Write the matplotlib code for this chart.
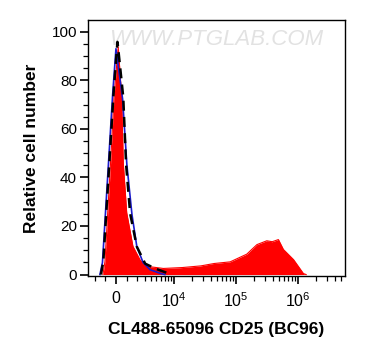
import numpy as np
import matplotlib
matplotlib.use("Agg")
import matplotlib.pyplot as plt
from matplotlib.ticker import FixedLocator, MultipleLocator

plt.rcParams['font.family'] = ['Liberation Sans', 'DejaVu Sans']
plt.rcParams['mathtext.fontset'] = 'custom'
plt.rcParams['mathtext.rm'] = 'Liberation Sans'

# sample (red, filled)
red_x = [-1180, -990, -470, -175, 200, 500, 645, 960, 1580, 2390, 3300, 6530,
         12550, 26560, 43100, 81000, 150900, 218600, 316800, 385700, 487900,
         587600, 852000, 1234000, 1365000]
red_y = [0, 5, 46, 73, 94, 73, 46, 25.5, 11.6, 6, 3.4, 2.5,
         2.8, 3.5, 4.5, 5.2, 8.4, 12.3, 13.9, 13.5, 14.4,
         10.3, 6.2, 0.4, 0]

# isotype control (black dashed)
black_x = [-1380, -1150, -590, -236, 131, 645, 893, 1278, 1991, 3063, 4720, 7930, 9260]
black_y = [0, 5, 46, 73, 96, 73, 46, 25.5, 11.6, 4.5, 2.5, 0.5, 0]

# unstained (blue)
blue_x = [-1480, -1225, -663, -306, 0, 573, 958, 1449, 1991, 2770, 3820, 5780, 7000]
blue_y = [0, 5, 46, 73, 93, 73, 46, 25.5, 11.6, 5, 2, 0.5, 0]

xticks = [0, 1e4, 1e5, 1e6]
xticklabels = ['0', r'$\mathregular{10^4}$', r'$\mathregular{10^5}$', r'$\mathregular{10^6}$']

W = 2350.0
def fwd(v):
    return np.arcsinh(np.asarray(v, dtype=float) / W)
def inv(u):
    return W * np.sinh(u)

fig = plt.figure(figsize=(3.65, 3.6), dpi=100)
ax = fig.add_axes([88/365, 84/360, 257/365, 256/360])
ax.set_xscale('function', functions=(fwd, inv))

# resample on the display scale so segments look like the histogram
def dense(xs, ys):
    u = fwd(xs)
    uu = np.linspace(u[0], u[-1], 600)
    return inv(uu), np.interp(uu, u, ys)

rx, ry = dense(red_x, red_y)
ax.fill_between(rx, 0, ry, color='#ff0000', lw=0, zorder=2)
ax.plot(rx, ry, color='#ff0000', lw=0.8, zorder=2)
bx, by = dense(blue_x, blue_y)
ax.plot(bx, by, color='#1a1acc', lw=1.2, zorder=3)
kx, ky = dense(black_x, black_y)
ax.plot(kx, ky, color='black', lw=1.8, ls=(0, (4, 2.5)), zorder=4)

ax.set_xlim(-2900, 5.77e6)
ax.set_ylim(-0.6, 104.8)

ax.xaxis.set_major_locator(FixedLocator(xticks))
ax.set_xticklabels(xticklabels)
minors = [-2000, -1000] + [k * 1000 for k in range(1, 10)] + \
         [k * 1e4 for k in range(2, 10)] + [k * 1e5 for k in range(2, 10)] + \
         [k * 1e6 for k in range(2, 6)]
ax.xaxis.set_minor_locator(FixedLocator(minors))
ax.yaxis.set_major_locator(MultipleLocator(20))
ax.yaxis.set_minor_locator(MultipleLocator(5))

ax.tick_params(axis='both', which='major', direction='out', length=6, width=1.2,
               labelsize=11, colors='black', pad=2)
ax.tick_params(axis='both', which='minor', direction='out', length=3.5, width=0.9)
ax.tick_params(axis='x', which='major', pad=5, labelsize=11.5)

for s in ax.spines.values():
    s.set_linewidth(1.0)

ax.set_ylabel('Relative cell number', fontsize=12.5, fontweight='bold', labelpad=9)
ax.set_xlabel('CL488-65096 CD25 (BC96)', fontsize=12.5, fontweight='bold', labelpad=9)

ax.text(0.5, 0.925, 'WWW.PTGLAB.COM', transform=ax.transAxes, ha='center', va='center',
        fontsize=16, style='italic', color='#e2e2e2', zorder=1)

fig.savefig('out.png', dpi=100)
